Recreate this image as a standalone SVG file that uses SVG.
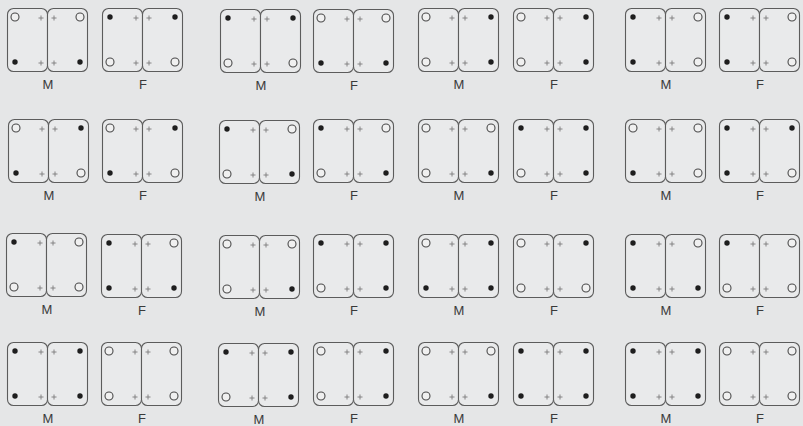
<svg xmlns="http://www.w3.org/2000/svg" xmlns:xlink="http://www.w3.org/1999/xlink" width="803" height="426" viewBox="0 0 803 426">
<style>
.bg{fill:#e5e6e7}
.fr{fill:#e9eaeb;stroke:#5c5c5c;stroke-width:1.1}
.op{fill:#f0f0f0;stroke:#4a4a4a;stroke-width:1.1}
.fd{fill:#1e1e1e}
.pl{stroke:#7a7a7a;stroke-width:0.9;fill:none}
.lb{font-family:"Liberation Sans",Arial,sans-serif;font-size:13px;fill:#3a3a3a;text-anchor:middle}
</style>
<defs>
<g id="frame">
<rect class="fr" x="0.5" y="0.5" width="40" height="63" rx="6"/>
<rect class="fr" x="40.5" y="0.5" width="40" height="63" rx="6"/>
<path class="pl" d="M31.5 10h5M34 7.5v5M44.5 10h5M47 7.5v5M31.5 55h5M34 52.5v5M44.5 55h5M47 52.5v5"/>
</g>
<circle id="o" class="op" r="4"/>
<circle id="f" class="fd" r="2.7"/>
</defs>
<rect class="bg" x="0" y="0" width="803" height="426"/>
<g id="connectors"/>

<!-- Row 1 -->
<g id="r1g1M" transform="translate(7,8)"><use xlink:href="#frame"/><use xlink:href="#o" x="8" y="9"/><use xlink:href="#o" x="73" y="9"/><use xlink:href="#f" x="8" y="54"/><use xlink:href="#f" x="73" y="54"/><text class="lb" x="41" y="81">M</text></g>
<g id="r1g1F" transform="translate(102,8)"><use xlink:href="#frame"/><use xlink:href="#f" x="8" y="9"/><use xlink:href="#f" x="73" y="9"/><use xlink:href="#o" x="8" y="54"/><use xlink:href="#o" x="73" y="54"/><text class="lb" x="41" y="81">F</text></g>
<g id="r1g2M" transform="translate(220,9)"><use xlink:href="#frame"/><use xlink:href="#f" x="8" y="9"/><use xlink:href="#f" x="73" y="9"/><use xlink:href="#o" x="8" y="54"/><use xlink:href="#o" x="73" y="54"/><text class="lb" x="41" y="81">M</text></g>
<g id="r1g2F" transform="translate(313,9)"><use xlink:href="#frame"/><use xlink:href="#o" x="8" y="9"/><use xlink:href="#o" x="73" y="9"/><use xlink:href="#f" x="8" y="54"/><use xlink:href="#f" x="73" y="54"/><text class="lb" x="41" y="81">F</text></g>
<g id="r1g3M" transform="translate(418,8)"><use xlink:href="#frame"/><use xlink:href="#o" x="8" y="9"/><use xlink:href="#f" x="73" y="9"/><use xlink:href="#o" x="8" y="54"/><use xlink:href="#f" x="73" y="54"/><text class="lb" x="41" y="81">M</text></g>
<g id="r1g3F" transform="translate(513,8)"><use xlink:href="#frame"/><use xlink:href="#o" x="8" y="9"/><use xlink:href="#f" x="73" y="9"/><use xlink:href="#o" x="8" y="54"/><use xlink:href="#f" x="73" y="54"/><text class="lb" x="41" y="81">F</text></g>
<g id="r1g4M" transform="translate(625,8)"><use xlink:href="#frame"/><use xlink:href="#f" x="8" y="9"/><use xlink:href="#o" x="73" y="9"/><use xlink:href="#f" x="8" y="54"/><use xlink:href="#o" x="73" y="54"/><text class="lb" x="41" y="81">M</text></g>
<g id="r1g4F" transform="translate(719,8)"><use xlink:href="#frame"/><use xlink:href="#f" x="8" y="9"/><use xlink:href="#o" x="73" y="9"/><use xlink:href="#f" x="8" y="54"/><use xlink:href="#o" x="73" y="54"/><text class="lb" x="41" y="81">F</text></g>

<!-- Row 2 -->
<g id="r2g1M" transform="translate(8,119)"><use xlink:href="#frame"/><use xlink:href="#o" x="8" y="9"/><use xlink:href="#f" x="73" y="9"/><use xlink:href="#f" x="8" y="54"/><use xlink:href="#o" x="73" y="54"/><text class="lb" x="41" y="81">M</text></g>
<g id="r2g1F" transform="translate(102,119)"><use xlink:href="#frame"/><use xlink:href="#o" x="8" y="9"/><use xlink:href="#f" x="73" y="9"/><use xlink:href="#f" x="8" y="54"/><use xlink:href="#o" x="73" y="54"/><text class="lb" x="41" y="81">F</text></g>
<g id="r2g2M" transform="translate(219,120)"><use xlink:href="#frame"/><use xlink:href="#f" x="8" y="9"/><use xlink:href="#o" x="73" y="9"/><use xlink:href="#o" x="8" y="54"/><use xlink:href="#f" x="73" y="54"/><text class="lb" x="41" y="81">M</text></g>
<g id="r2g2F" transform="translate(313,119)"><use xlink:href="#frame"/><use xlink:href="#f" x="8" y="9"/><use xlink:href="#o" x="73" y="9"/><use xlink:href="#o" x="8" y="54"/><use xlink:href="#f" x="73" y="54"/><text class="lb" x="41" y="81">F</text></g>
<g id="r2g3M" transform="translate(418,119)"><use xlink:href="#frame"/><use xlink:href="#o" x="8" y="9"/><use xlink:href="#o" x="73" y="9"/><use xlink:href="#o" x="8" y="54"/><use xlink:href="#f" x="73" y="54"/><text class="lb" x="41" y="81">M</text></g>
<g id="r2g3F" transform="translate(513,119)"><use xlink:href="#frame"/><use xlink:href="#f" x="8" y="9"/><use xlink:href="#f" x="73" y="9"/><use xlink:href="#o" x="8" y="54"/><use xlink:href="#f" x="73" y="54"/><text class="lb" x="41" y="81">F</text></g>
<g id="r2g4M" transform="translate(625,119)"><use xlink:href="#frame"/><use xlink:href="#o" x="8" y="9"/><use xlink:href="#o" x="73" y="9"/><use xlink:href="#f" x="8" y="54"/><use xlink:href="#o" x="73" y="54"/><text class="lb" x="41" y="81">M</text></g>
<g id="r2g4F" transform="translate(719,119)"><use xlink:href="#frame"/><use xlink:href="#f" x="8" y="9"/><use xlink:href="#f" x="73" y="9"/><use xlink:href="#f" x="8" y="54"/><use xlink:href="#o" x="73" y="54"/><text class="lb" x="41" y="81">F</text></g>

<!-- Row 3 -->
<g id="r3g1M" transform="translate(6,233)"><use xlink:href="#frame"/><use xlink:href="#f" x="8" y="9"/><use xlink:href="#o" x="73" y="9"/><use xlink:href="#o" x="8" y="54"/><use xlink:href="#o" x="73" y="54"/><text class="lb" x="41" y="81">M</text></g>
<g id="r3g1F" transform="translate(101,234)"><use xlink:href="#frame"/><use xlink:href="#f" x="8" y="9"/><use xlink:href="#o" x="73" y="9"/><use xlink:href="#f" x="8" y="54"/><use xlink:href="#f" x="73" y="54"/><text class="lb" x="41" y="81">F</text></g>
<g id="r3g2M" transform="translate(219,235)"><use xlink:href="#frame"/><use xlink:href="#o" x="8" y="9"/><use xlink:href="#o" x="73" y="9"/><use xlink:href="#o" x="8" y="54"/><use xlink:href="#f" x="73" y="54"/><text class="lb" x="41" y="81">M</text></g>
<g id="r3g2F" transform="translate(313,234)"><use xlink:href="#frame"/><use xlink:href="#f" x="8" y="9"/><use xlink:href="#f" x="73" y="9"/><use xlink:href="#o" x="8" y="54"/><use xlink:href="#f" x="73" y="54"/><text class="lb" x="41" y="81">F</text></g>
<g id="r3g3M" transform="translate(418,234)"><use xlink:href="#frame"/><use xlink:href="#o" x="8" y="9"/><use xlink:href="#f" x="73" y="9"/><use xlink:href="#f" x="8" y="54"/><use xlink:href="#f" x="73" y="54"/><text class="lb" x="41" y="81">M</text></g>
<g id="r3g3F" transform="translate(513,234)"><use xlink:href="#frame"/><use xlink:href="#o" x="8" y="9"/><use xlink:href="#f" x="73" y="9"/><use xlink:href="#o" x="8" y="54"/><use xlink:href="#o" x="73" y="54"/><text class="lb" x="41" y="81">F</text></g>
<g id="r3g4M" transform="translate(625,234)"><use xlink:href="#frame"/><use xlink:href="#f" x="8" y="9"/><use xlink:href="#o" x="73" y="9"/><use xlink:href="#f" x="8" y="54"/><use xlink:href="#f" x="73" y="54"/><text class="lb" x="41" y="81">M</text></g>
<g id="r3g4F" transform="translate(719,234)"><use xlink:href="#frame"/><use xlink:href="#f" x="8" y="9"/><use xlink:href="#o" x="73" y="9"/><use xlink:href="#o" x="8" y="54"/><use xlink:href="#o" x="73" y="54"/><text class="lb" x="41" y="81">F</text></g>

<!-- Row 4 -->
<g id="r4g1M" transform="translate(7,342)"><use xlink:href="#frame"/><use xlink:href="#f" x="8" y="9"/><use xlink:href="#f" x="73" y="9"/><use xlink:href="#f" x="8" y="54"/><use xlink:href="#f" x="73" y="54"/><text class="lb" x="41" y="81">M</text></g>
<g id="r4g1F" transform="translate(101,342)"><use xlink:href="#frame"/><use xlink:href="#o" x="8" y="9"/><use xlink:href="#o" x="73" y="9"/><use xlink:href="#o" x="8" y="54"/><use xlink:href="#o" x="73" y="54"/><text class="lb" x="41" y="81">F</text></g>
<g id="r4g2M" transform="translate(218,343)"><use xlink:href="#frame"/><use xlink:href="#f" x="8" y="9"/><use xlink:href="#f" x="73" y="9"/><use xlink:href="#o" x="8" y="54"/><use xlink:href="#f" x="73" y="54"/><text class="lb" x="41" y="81">M</text></g>
<g id="r4g2F" transform="translate(313,342)"><use xlink:href="#frame"/><use xlink:href="#o" x="8" y="9"/><use xlink:href="#f" x="73" y="9"/><use xlink:href="#o" x="8" y="54"/><use xlink:href="#f" x="73" y="54"/><text class="lb" x="41" y="81">F</text></g>
<g id="r4g3M" transform="translate(418,342)"><use xlink:href="#frame"/><use xlink:href="#o" x="8" y="9"/><use xlink:href="#o" x="73" y="9"/><use xlink:href="#o" x="8" y="54"/><use xlink:href="#f" x="73" y="54"/><text class="lb" x="41" y="81">M</text></g>
<g id="r4g3F" transform="translate(513,342)"><use xlink:href="#frame"/><use xlink:href="#f" x="8" y="9"/><use xlink:href="#f" x="73" y="9"/><use xlink:href="#f" x="8" y="54"/><use xlink:href="#f" x="73" y="54"/><text class="lb" x="41" y="81">F</text></g>
<g id="r4g4M" transform="translate(625,342)"><use xlink:href="#frame"/><use xlink:href="#f" x="8" y="9"/><use xlink:href="#f" x="73" y="9"/><use xlink:href="#f" x="8" y="54"/><use xlink:href="#f" x="73" y="54"/><text class="lb" x="41" y="81">M</text></g>
<g id="r4g4F" transform="translate(719,342)"><use xlink:href="#frame"/><use xlink:href="#o" x="8" y="9"/><use xlink:href="#o" x="73" y="9"/><use xlink:href="#o" x="8" y="54"/><use xlink:href="#o" x="73" y="54"/><text class="lb" x="41" y="81">F</text></g>
</svg>
